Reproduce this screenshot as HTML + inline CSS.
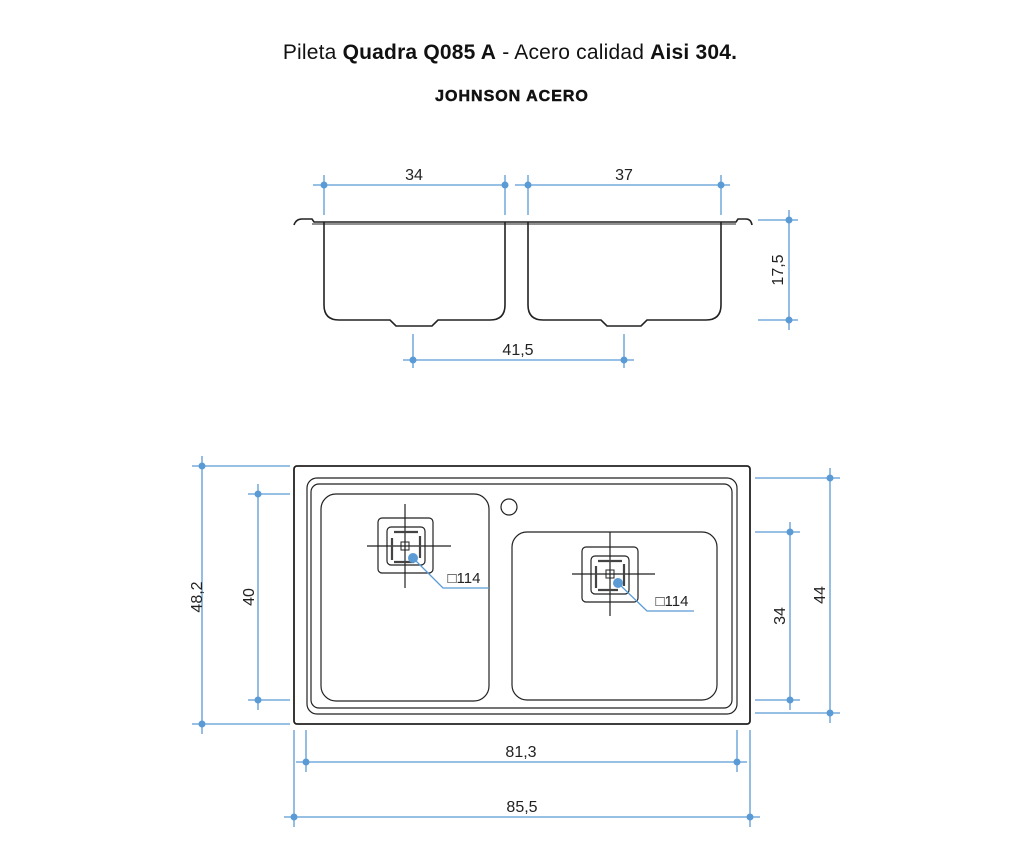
<!DOCTYPE html>
<html><head><meta charset="utf-8"><style>
html,body{margin:0;padding:0;background:#fff;}
svg{display:block;}
</style></head><body>
<svg width="1024" height="867" viewBox="0 0 1024 867" xmlns="http://www.w3.org/2000/svg">
<text x="510" y="59" text-anchor="middle" font-family="Liberation Sans, sans-serif" font-size="21" fill="#111" letter-spacing="0.2">Pileta <tspan font-weight="bold">Quadra Q085 A</tspan> - Acero calidad <tspan font-weight="bold">Aisi 304.</tspan></text>
<text x="512" y="101" text-anchor="middle" font-family="Liberation Sans, sans-serif" font-size="16" font-weight="bold" fill="#111" letter-spacing="1" stroke="#111" stroke-width="0.5">JOHNSON ACERO</text>

<g fill="none" stroke="#222" stroke-width="1.6">
<path d="M294,225 Q296,219 302,219 L312,219 L314,222 L736,222 L738,219 L746,219 Q751,219 752,225"/>
<line x1="312" y1="224" x2="736" y2="224" stroke-width="1"/>
<path d="M324,222 L324,305 Q324,320 339,320 L390,320 L396,326 L432,326 L438,320 L490,320 Q505,320 505,305 L505,222"/>
<path d="M528,222 L528,305 Q528,320 543,320 L601,320 L607,326 L641,326 L647,320 L706,320 Q721,320 721,305 L721,222"/>
<rect x="294" y="466" width="456" height="258" rx="3" stroke-width="1.8"/>
<rect x="307" y="478" width="430" height="236" rx="10" stroke-width="1.2"/>
<rect x="311" y="484" width="421" height="224" rx="8" stroke-width="1.2"/>
<rect x="321" y="494" width="168" height="207" rx="15" stroke-width="1.2"/>
<rect x="512" y="532" width="205" height="168" rx="15" stroke-width="1.2"/>
<circle cx="509" cy="507" r="8" stroke-width="1.2"/>
<rect x="378" y="518" width="55" height="55" rx="4" stroke-width="1.2"/>
<rect x="387" y="527" width="38" height="38" rx="4" stroke-width="1.2"/>
<rect x="401" y="542" width="8" height="8" stroke-width="1"/>
<line x1="367" y1="546" x2="451" y2="546" stroke-width="1.2"/>
<line x1="405" y1="504" x2="405" y2="588" stroke-width="1.2"/>
<rect x="582" y="547" width="56" height="55" rx="4" stroke-width="1.2"/>
<rect x="591" y="556" width="38" height="38" rx="4" stroke-width="1.2"/>
<rect x="606" y="570" width="8" height="8" stroke-width="1"/>
<line x1="572" y1="574" x2="655" y2="574" stroke-width="1.2"/>
<line x1="610" y1="532" x2="610" y2="616" stroke-width="1.2"/>
</g>
<g stroke="#444" stroke-width="2.2">
<line x1="394" y1="532" x2="418" y2="532"/><line x1="392" y1="538" x2="392" y2="560"/><line x1="420" y1="536" x2="420" y2="558"/><line x1="394" y1="562" x2="414" y2="562"/>
<line x1="598" y1="561" x2="622" y2="561"/><line x1="596" y1="566" x2="596" y2="588"/><line x1="624" y1="564" x2="624" y2="586"/><line x1="598" y1="590" x2="618" y2="590"/>
</g>
<g stroke="#5b9bd5" stroke-width="1.3" fill="none">
<polyline points="413,558 443,588 489,588"/>
<polyline points="618,583 647,611 694,611"/>
<line x1="313" y1="185" x2="507" y2="185"/><line x1="324" y1="175" x2="324" y2="215"/><line x1="505" y1="175" x2="505" y2="215"/>
<line x1="515" y1="185" x2="730" y2="185"/><line x1="528" y1="175" x2="528" y2="215"/><line x1="721" y1="175" x2="721" y2="215"/>
<line x1="758" y1="220" x2="798" y2="220"/><line x1="758" y1="320" x2="798" y2="320"/><line x1="789" y1="210" x2="789" y2="330"/>
<line x1="403" y1="360" x2="634" y2="360"/><line x1="413" y1="334" x2="413" y2="368"/><line x1="624" y1="334" x2="624" y2="368"/>
<line x1="192" y1="466" x2="290" y2="466"/><line x1="192" y1="724" x2="290" y2="724"/><line x1="202" y1="456" x2="202" y2="734"/>
<line x1="248" y1="494" x2="290" y2="494"/><line x1="248" y1="700" x2="290" y2="700"/><line x1="258" y1="484" x2="258" y2="710"/>
<line x1="755" y1="478" x2="840" y2="478"/><line x1="755" y1="713" x2="840" y2="713"/><line x1="830" y1="468" x2="830" y2="723"/>
<line x1="755" y1="532" x2="800" y2="532"/><line x1="755" y1="700" x2="800" y2="700"/><line x1="790" y1="522" x2="790" y2="710"/>
<line x1="296" y1="762" x2="747" y2="762"/><line x1="306" y1="730" x2="306" y2="772"/><line x1="737" y1="730" x2="737" y2="772"/>
<line x1="284" y1="817" x2="760" y2="817"/><line x1="294" y1="730" x2="294" y2="827"/><line x1="750" y1="730" x2="750" y2="827"/>
</g>
<g fill="#5b9bd5">
<circle cx="413" cy="558" r="5"/><circle cx="618" cy="583" r="5"/>
<circle cx="324" cy="185" r="3.5"/><circle cx="505" cy="185" r="3.5"/><circle cx="528" cy="185" r="3.5"/><circle cx="721" cy="185" r="3.5"/>
<circle cx="789" cy="220" r="3.5"/><circle cx="789" cy="320" r="3.5"/><circle cx="413" cy="360" r="3.5"/><circle cx="624" cy="360" r="3.5"/>
<circle cx="202" cy="466" r="3.5"/><circle cx="202" cy="724" r="3.5"/><circle cx="258" cy="494" r="3.5"/><circle cx="258" cy="700" r="3.5"/>
<circle cx="830" cy="478" r="3.5"/><circle cx="830" cy="713" r="3.5"/><circle cx="790" cy="532" r="3.5"/><circle cx="790" cy="700" r="3.5"/>
<circle cx="306" cy="762" r="3.5"/><circle cx="737" cy="762" r="3.5"/><circle cx="294" cy="817" r="3.5"/><circle cx="750" cy="817" r="3.5"/>
</g>
<g font-family="Liberation Sans, sans-serif" font-size="16" fill="#222" text-anchor="middle">
<text x="414" y="180">34</text><text x="624" y="180">37</text>
<text x="518" y="355">41,5</text>
<text transform="translate(783,270) rotate(-90)">17,5</text>
<text transform="translate(202,597) rotate(-90)">48,2</text>
<text transform="translate(254,597) rotate(-90)">40</text>
<text transform="translate(825,595) rotate(-90)">44</text>
<text transform="translate(785,616) rotate(-90)">34</text>
<text x="521" y="757">81,3</text>
<text x="522" y="812">85,5</text>
<text x="464" y="583" font-size="15">□114</text>
<text x="672" y="606" font-size="15">□114</text>
</g>
</svg>
</body></html>
